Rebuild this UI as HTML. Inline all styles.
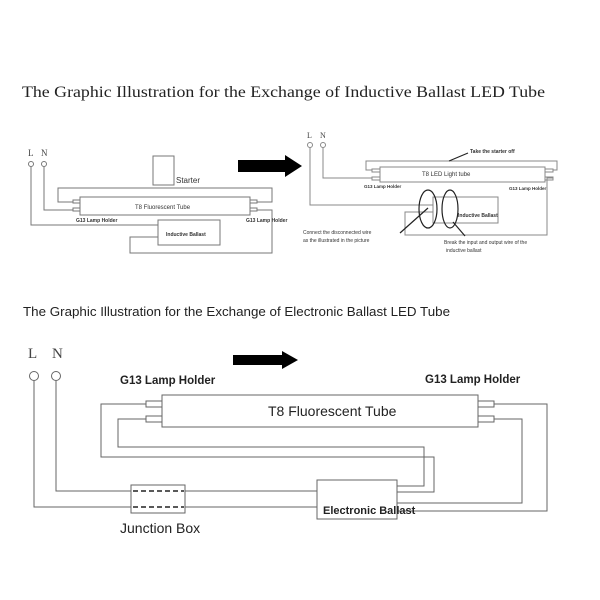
<!DOCTYPE html>
<html><head><meta charset="utf-8"><style>
html,body{margin:0;padding:0;background:#fff;}
svg{display:block;}
</style></head><body>
<svg width="600" height="600" viewBox="0 0 600 600" xmlns="http://www.w3.org/2000/svg">
<rect width="600" height="600" fill="#fff"/>
<text x="22" y="97" font-family="Liberation Serif, serif" font-size="16" fill="#222" textLength="523" lengthAdjust="spacingAndGlyphs">The Graphic Illustration for the Exchange of Inductive Ballast LED Tube</text>

<!-- Top-left diagram -->
<g stroke="#777" stroke-width="1" fill="none">
<circle cx="31" cy="164" r="2.5"/><circle cx="44" cy="164" r="2.5"/>
<rect x="80" y="197" width="170" height="18"/>
<rect x="73" y="200" width="7" height="3"/><rect x="73" y="208" width="7" height="3"/>
<rect x="250" y="200" width="7" height="3"/><rect x="250" y="208" width="7" height="3"/>
<rect x="153" y="156" width="21" height="29"/>
<polyline points="73,202 58,202 58,188 272,188 272,202 257,202"/>
<polyline points="44,167 44,210 73,210"/>
<polyline points="31,167 31,225 158,225"/>
<rect x="158" y="220" width="62" height="25"/>
<polyline points="257,210 272,210 272,253 130,253 130,237 158,237"/>
</g>
<g font-family="Liberation Serif, serif" font-size="9" fill="#444"><text x="28" y="156">L</text><text x="41" y="156">N</text></g>
<g font-family="Liberation Sans, sans-serif" fill="#333">
<text x="176" y="183" font-size="8">Starter</text>
<text x="135" y="209" font-size="6">T8 Fluorescent Tube</text>
<text x="76" y="222" font-size="5" font-weight="bold">G13 Lamp Holder</text>
<text x="246" y="222" font-size="5" font-weight="bold">G13 Lamp Holder</text>
<text x="166" y="236" font-size="5" font-weight="bold">Inductive Ballast</text>
</g>
<polygon points="238,160 285,160 285,155 302,166 285,177 285,172 238,172" fill="#000"/>

<!-- Top-right diagram -->
<g stroke="#888" stroke-width="1" fill="none">
<circle cx="310" cy="145" r="2.5"/><circle cx="323" cy="145" r="2.5"/>
<rect x="380" y="167" width="165" height="15"/>
<rect x="372" y="169" width="8" height="3"/><rect x="372" y="177" width="8" height="3"/>
<rect x="545" y="169" width="8" height="3"/><rect x="545" y="177" width="8" height="3"/>
<polyline points="372,170 366,170 366,161 557,161 557,170 553,170"/>
<polyline points="323,148 323,178 372,178"/>
<polyline points="310,148 310,205 433,205"/>
<rect x="433" y="197" width="65" height="26"/>
<polyline points="433,212 405,212 405,235 547,235 547,178 553,178"/>
</g>
<g stroke="#222" stroke-width="1.2" fill="none">
<ellipse cx="428" cy="209" rx="9" ry="19"/>
<ellipse cx="450" cy="209" rx="8" ry="19"/>
<line x1="400" y1="233" x2="428" y2="208"/>
<line x1="453" y1="222" x2="465" y2="236"/>
<line x1="449" y1="161" x2="468" y2="153"/>
</g>
<g font-family="Liberation Serif, serif" font-size="8" fill="#444"><text x="307" y="138">L</text><text x="320" y="138">N</text></g>
<g font-family="Liberation Sans, sans-serif" fill="#333">
<text x="470" y="153" font-size="5" font-weight="bold">Take the starter off</text>
<text x="422" y="176" font-size="6">T8 LED Light tube</text>
<text x="364" y="188" font-size="4.5" font-weight="bold">G13 Lamp Holder</text>
<text x="509" y="190" font-size="4.5" font-weight="bold">G13 Lamp Holder</text>
<text x="458" y="217" font-size="5" font-weight="bold">Inductive Ballast</text>
<text x="303" y="234" font-size="5">Connect the disconnected wire</text>
<text x="303" y="242" font-size="5">as the illustrated in the picture</text>
<text x="444" y="244" font-size="5">Break the input and output wire of the</text>
<text x="446" y="252" font-size="5">inductive ballast</text>
</g>

<text x="23" y="316" font-family="Liberation Sans, sans-serif" font-size="12.5" fill="#222" textLength="427" lengthAdjust="spacingAndGlyphs">The Graphic Illustration for the Exchange of Electronic Ballast LED Tube</text>

<!-- Bottom diagram -->
<g stroke="#666" stroke-width="1" fill="none">
<circle cx="34" cy="376" r="4.5"/><circle cx="56" cy="376" r="4.5"/>
<rect x="162" y="395" width="316" height="32"/>
<rect x="146" y="401" width="16" height="6"/><rect x="146" y="416" width="16" height="6"/>
<rect x="478" y="401" width="16" height="6"/><rect x="478" y="416" width="16" height="6"/>
<polyline points="146,404 101,404 101,457 434,457 434,492 397,492"/>
<polyline points="146,419 118,419 118,447 424,447 424,486 397,486"/>
<polyline points="494,404 547,404 547,511 397,511"/>
<polyline points="494,419 522,419 522,503 397,503"/>
<rect x="317" y="480" width="80" height="39"/>
<rect x="131" y="485" width="54" height="28"/>
<polyline points="56,381 56,491 131,491"/>
<line x1="185" y1="491" x2="317" y2="491"/>
<polyline points="34,381 34,507 131,507"/>
<line x1="185" y1="507" x2="317" y2="507"/>
</g>
<g stroke="#222" stroke-width="1.5" stroke-dasharray="5,3">
<line x1="133" y1="491" x2="184" y2="491"/><line x1="133" y1="507" x2="184" y2="507"/>
</g>
<polygon points="233,355 282,355 282,351 298,360 282,369 282,365 233,365" fill="#000"/>
<g font-family="Liberation Serif, serif" font-size="15" fill="#444"><text x="28" y="358">L</text><text x="52" y="358">N</text></g>
<g font-family="Liberation Sans, sans-serif" fill="#222">
<text x="120" y="384" font-size="11.5" font-weight="bold">G13 Lamp Holder</text>
<text x="425" y="383" font-size="11.5" font-weight="bold">G13 Lamp Holder</text>
<text x="268" y="416" font-size="14">T8 Fluorescent Tube</text>
<text x="323" y="514" font-size="11" font-weight="bold">Electronic Ballast</text>
<text x="120" y="533" font-size="14">Junction Box</text>
</g>
</svg>
</body></html>
